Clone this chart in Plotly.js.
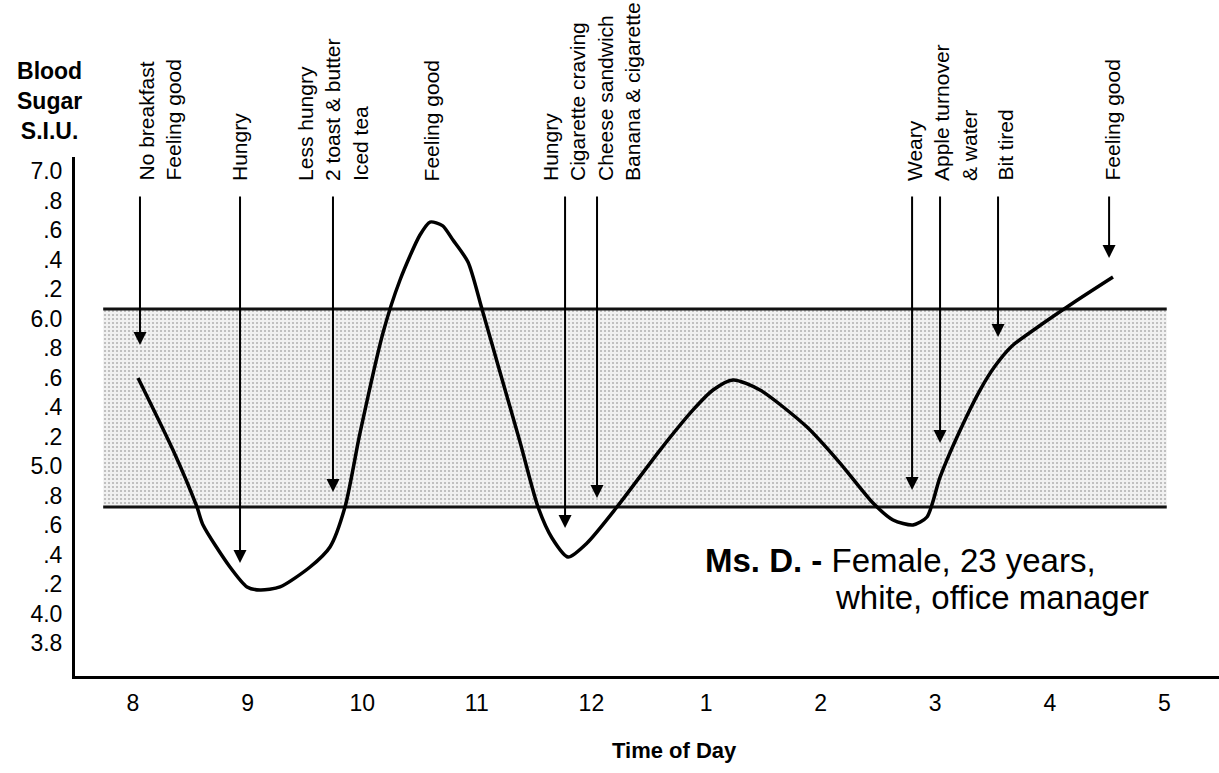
<!DOCTYPE html>
<html>
<head>
<meta charset="utf-8">
<script src="https://cdn.plot.ly/plotly-3.0.1.min.js"></script>
<style>
  html, body { margin: 0; padding: 0; background: #ffffff; }
  #chart { width: 1219px; height: 773px; }
</style>
</head>
<body>
<div id="chart"></div>
<script>
// ---- Data (hours on a 24h clock; 13 = 1 pm) ----
const timeHours = [8.044, 8.349, 8.558, 8.611, 8.846, 8.995, 9.108, 9.283, 9.545, 9.719, 9.850, 9.981, 10.181, 10.330, 10.504, 10.592, 10.700, 10.792, 10.923, 11.045, 11.202, 11.377, 11.534, 11.656, 11.796, 11.962, 12.223, 12.599, 12.887, 13.061, 13.236, 13.471, 13.881, 14.169, 14.457, 14.632, 14.806, 14.928, 15.042, 15.190, 15.391, 15.522, 15.670, 15.871, 16.202, 16.551];
const bloodSugar = [5.597, 5.108, 4.722, 4.600, 4.315, 4.180, 4.159, 4.180, 4.315, 4.451, 4.722, 5.224, 5.902, 6.261, 6.566, 6.654, 6.630, 6.532, 6.383, 6.064, 5.637, 5.163, 4.722, 4.512, 4.383, 4.478, 4.722, 5.108, 5.380, 5.515, 5.583, 5.515, 5.264, 5.020, 4.749, 4.634, 4.600, 4.654, 4.925, 5.197, 5.515, 5.678, 5.814, 5.929, 6.105, 6.281];

// normal range band
const bandHours = [7.74, 17.02];
const bandLow = [4.722, 4.722];
const bandHigh = [6.064, 6.064];

// axis ticks
const xTickVals = [8, 9, 10, 11, 12, 13, 14, 15, 16, 17];
const xTickText = ['8', '9', '10', '11', '12', '1', '2', '3', '4', '5'];
const yTickVals = [3.8, 4.0, 4.2, 4.4, 4.6, 4.8, 5.0, 5.2, 5.4, 5.6, 5.8, 6.0, 6.2, 6.4, 6.6, 6.8, 7.0];
const yTickText = ['3.8', '4.0', '.2', '.4', '.6', '.8', '5.0', '.2', '.4', '.6', '.8', '6.0', '.2', '.4', '.6', '.8', '7.0'];

// event notes
const noteTexts = [
  'No breakfast<br>Feeling good',
  'Hungry',
  'Less hungry<br>2 toast & butter<br>Iced tea',
  'Feeling good',
  'Hungry<br>Cigarette craving<br>Cheese sandwich<br>Banana & cigarette',
  'Weary<br>Apple turnover<br>& water',
  'Bit tired',
  'Feeling good'
];
const noteHours = [8.236, 8.934, 9.745, 10.600, 12.001, 15.064, 15.609, 16.543];
const noteBase = 6.919;

// arrows
const arrowHours = [8.061, 8.934, 9.745, 11.770, 12.049, 14.798, 15.042, 15.548, 16.517];
const arrowTop = 6.837;
const arrowTips = [5.820, 4.342, 4.824, 4.580, 4.783, 4.837, 5.156, 5.875, 6.410];

// ---- Chart ----
const FONT = '"Liberation Sans", Arial, Helvetica, sans-serif';

const traces = [
  {
    x: bandHours, y: bandLow, mode: 'lines', type: 'scatter',
    line: { color: '#111', width: 3 }, hoverinfo: 'skip'
  },
  {
    x: bandHours, y: bandHigh, mode: 'lines', type: 'scatter',
    fill: 'tonexty',
    fillcolor: '#ececec',
    fillpattern: { shape: '.', fgcolor: '#b4b4b4', bgcolor: '#f1f1f1', size: 4, solidity: 0.22 },
    line: { color: '#111', width: 3 }, hoverinfo: 'skip'
  },
  {
    x: timeHours, y: bloodSugar, mode: 'lines', type: 'scatter',
    line: { color: '#000', width: 3.5, shape: 'spline', smoothing: 0.7 }
  }
];

const annotations = [];
noteTexts.forEach((t, i) => {
  annotations.push({
    x: noteHours[i], y: noteBase, xref: 'x', yref: 'y',
    text: t, showarrow: false, textangle: -90,
    xanchor: 'center', yanchor: 'bottom', align: 'left',
    font: { family: FONT, size: 21, color: '#000' }
  });
});
arrowHours.forEach((h, i) => {
  annotations.push({
    x: h, y: arrowTips[i], ax: h, ay: arrowTop,
    xref: 'x', yref: 'y', axref: 'x', ayref: 'y',
    text: '', showarrow: true, arrowhead: 2, arrowsize: 1.3, arrowwidth: 2,
    arrowcolor: '#000', standoff: 0, startstandoff: 0
  });
});
annotations.push({
  xref: 'paper', yref: 'paper', x: -0.0227, y: 1.108,
  xanchor: 'center', yanchor: 'middle', align: 'center', showarrow: false,
  text: '<b>Blood<br>Sugar<br>S.I.U.</b>',
  font: { family: FONT, size: 23, color: '#000' }
});
annotations.push({
  xref: 'paper', yref: 'paper', x: 0.549, y: 0.2235,
  xanchor: 'left', yanchor: 'middle', showarrow: false,
  text: '<b>Ms. D. -</b> Female, 23 years,',
  font: { family: FONT, size: 33, color: '#000' }
});
annotations.push({
  xref: 'paper', yref: 'paper', x: 0.6626, y: 0.1522,
  xanchor: 'left', yanchor: 'middle', showarrow: false,
  text: 'white, office manager',
  font: { family: FONT, size: 33, color: '#000' }
});
annotations.push({
  xref: 'paper', yref: 'paper', x: 0.524, y: -0.1445,
  xanchor: 'center', yanchor: 'middle', showarrow: false,
  text: '<b>Time of Day</b>',
  font: { family: FONT, size: 22, color: '#000' }
});

const layout = {
  width: 1219, height: 773,
  margin: { l: 75, r: 0, t: 157, b: 97 },
  paper_bgcolor: '#ffffff', plot_bgcolor: '#ffffff',
  showlegend: false,
  font: { family: FONT, color: '#000' },
  xaxis: {
    range: [7.494, 17.476], tickvals: xTickVals, ticktext: xTickText,
    showgrid: false, zeroline: false, showline: true, linecolor: '#000', linewidth: 3,
    ticks: '', tickfont: { family: FONT, size: 23, color: '#000' }, ticklabelstandoff: 4,
    fixedrange: true
  },
  yaxis: {
    range: [3.576, 7.095], tickvals: yTickVals, ticktext: yTickText,
    showgrid: false, zeroline: false, showline: true, linecolor: '#000', linewidth: 3,
    ticks: '', tickfont: { family: FONT, size: 23, color: '#000' }, ticklabelstandoff: 5,
    fixedrange: true
  },
  annotations: annotations
};

Plotly.newPlot('chart', traces, layout, { displayModeBar: false, staticPlot: true });
</script>
</body>
</html>
